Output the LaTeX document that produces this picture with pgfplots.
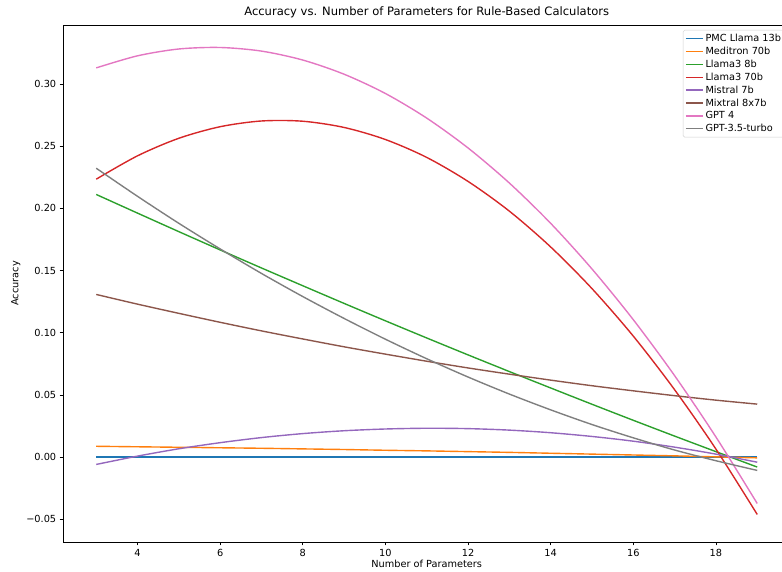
\documentclass[border=0pt]{standalone}
\usepackage{fontspec}
\setmainfont{DejaVu Sans}
\usepackage{pgfplots}
\pgfplotsset{compat=1.18}

\definecolor{c0}{HTML}{1F77B4}
\definecolor{c1}{HTML}{FF7F0E}
\definecolor{c2}{HTML}{2CA02C}
\definecolor{c3}{HTML}{D62728}
\definecolor{c4}{HTML}{9467BD}
\definecolor{c5}{HTML}{8C564B}
\definecolor{c6}{HTML}{E377C2}
\definecolor{c7}{HTML}{7F7F7F}

\pgfplotsset{fitline/.style={color=#1, line width=1.4pt, smooth, no marks}}

\begin{document}
\begin{tikzpicture}
\begin{axis}[
    name=ax,
    scale only axis,
    width=730pt, height=519pt,
    xmin=2.2, xmax=19.8,
    ymin=-0.0682, ymax=0.3475,
    xtick={4,6,8,10,12,14,16,18},
    ytick={-0.05,0,0.05,0.10,0.15,0.20,0.25,0.30},
    yticklabels={−0.05,0.00,0.05,0.10,0.15,0.20,0.25,0.30},
    tick align=outside,
    major tick length=3.5pt,
    tick style={black, line width=0.6pt},
    axis line style={line width=0.6pt},
    xtick pos=bottom, ytick pos=left,
    ticklabel style={font=\fontsize{9.8}{11}\selectfont},
    /pgf/number format/assume math mode=true,
    xlabel={Number of Parameters},
    ylabel={Accuracy},
    label style={font=\fontsize{9.8}{11}\selectfont},
    xlabel style={yshift=3pt},
    ylabel style={yshift=-1pt},
    title={Accuracy vs. Number of Parameters for Rule-Based Calculators},
    title style={font=\fontsize{11.6}{13}\selectfont, yshift=-2pt},
    legend style={at={(1,1)}, xshift=-5pt, yshift=-5pt, anchor=north east,
        font=\fontsize{9.8}{11}\selectfont, draw=black!18, rounded corners=1.5pt,
        row sep=0pt, inner sep=2pt},
    legend cell align=left,
]
\addplot[fitline=c0] coordinates {(3,0)(4,0)(5,0)(6,0)(7,0)(8,0)(9,0)(10,0)(11,0)(12,0)(13,0)(14,0)(15,0)(16,0)(17,0)(18,0)(19,0)};
\addlegendentry{PMC Llama 13b}
\addplot[fitline=c1] coordinates {(3,0.0087)(4,0.0083)(5,0.0079)(6,0.0075)(7,0.0071)(8,0.0066)(9,0.0061)(10,0.0055)(11,0.0050)(12,0.0044)(13,0.0038)(14,0.0031)(15,0.0024)(16,0.0017)(17,0.0010)(18,0.0002)(19,-0.0006)};
\addlegendentry{Meditron 70b}
\addplot[fitline=c2] coordinates {(3,0.2112)(4,0.1962)(5,0.1813)(6,0.1666)(7,0.1521)(8,0.1378)(9,0.1236)(10,0.1096)(11,0.0958)(12,0.0822)(13,0.0688)(14,0.0556)(15,0.0425)(16,0.0296)(17,0.0169)(18,0.0044)(19,-0.0080)};
\addlegendentry{Llama3 8b}
\addplot[fitline=c3] coordinates {(3,0.2235)(4,0.2423)(5,0.2564)(6,0.2657)(7,0.2703)(8,0.2701)(9,0.2651)(10,0.2554)(11,0.2410)(12,0.2217)(13,0.1978)(14,0.1690)(15,0.1355)(16,0.0973)(17,0.0542)(18,0.0065)(19,-0.0461)};
\addlegendentry{Llama3 70b}
\addplot[fitline=c4] coordinates {(3,-0.0059)(4,0.0008)(5,0.0067)(6,0.0116)(7,0.0157)(8,0.0189)(9,0.0212)(10,0.0226)(11,0.0232)(12,0.0229)(13,0.0217)(14,0.0196)(15,0.0166)(16,0.0128)(17,0.0080)(18,0.0024)(19,-0.0041)};
\addlegendentry{Mistral 7b}
\addplot[fitline=c5] coordinates {(3,0.1308)(4,0.1230)(5,0.1156)(6,0.1084)(7,0.1015)(8,0.0950)(9,0.0887)(10,0.0828)(11,0.0771)(12,0.0717)(13,0.0667)(14,0.0619)(15,0.0574)(16,0.0533)(17,0.0494)(18,0.0458)(19,0.0426)};
\addlegendentry{Mixtral 8x7b}
\addplot[fitline=c6] coordinates {(3,0.3130)(4,0.3227)(5,0.3282)(6,0.3294)(7,0.3265)(8,0.3193)(9,0.3079)(10,0.2924)(11,0.2726)(12,0.2486)(13,0.2204)(14,0.1880)(15,0.1513)(16,0.1105)(17,0.0655)(18,0.0162)(19,-0.0373)};
\addlegendentry{GPT 4}
\addplot[fitline=c7] coordinates {(3,0.2323)(4,0.2097)(5,0.1880)(6,0.1674)(7,0.1477)(8,0.1291)(9,0.1115)(10,0.0948)(11,0.0791)(12,0.0644)(13,0.0507)(14,0.0380)(15,0.0262)(16,0.0155)(17,0.0057)(18,-0.0029)(19,-0.0107)};
\addlegendentry{GPT-3.5-turbo}
\coordinate (cutR) at (axis cs:19.6,0);
\end{axis}
\pgfresetboundingbox
\path[use as bounding box] ([xshift=-8pt]ax.outer south west) rectangle ([yshift=3pt]cutR |- ax.outer north east);
\end{tikzpicture}
\end{document}
